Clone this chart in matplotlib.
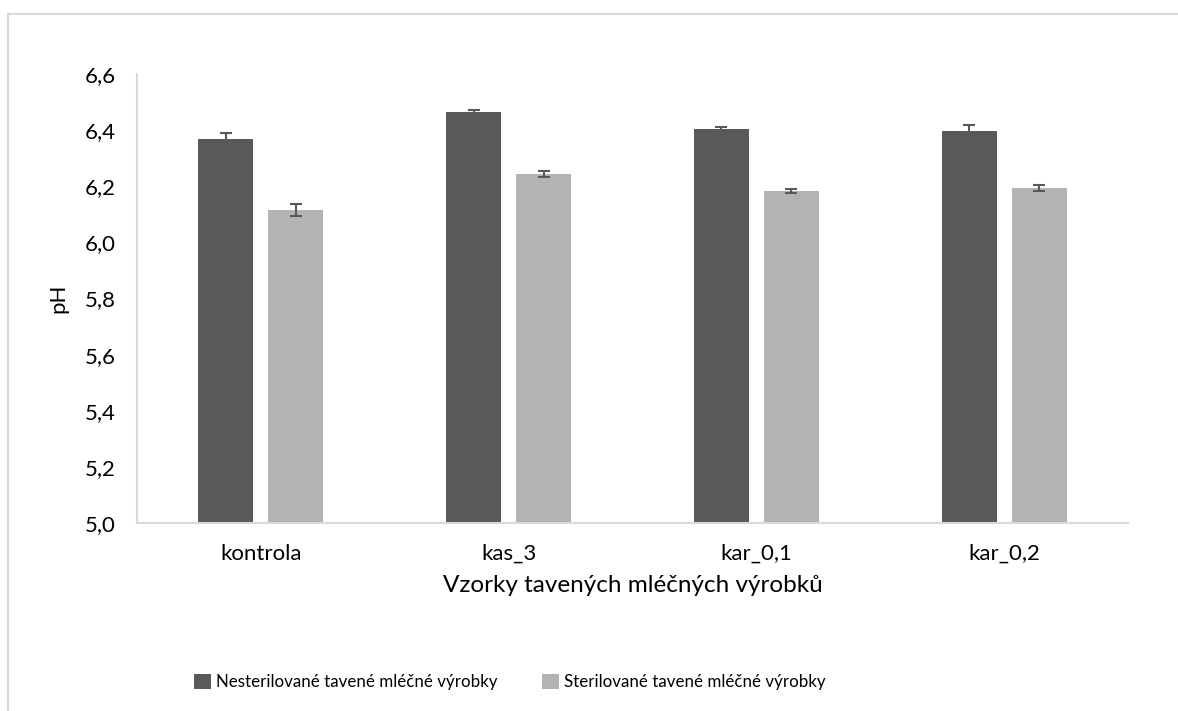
import matplotlib.pyplot as plt
import matplotlib.patches as patches
import numpy as np

plt.rcParams['font.family'] = ['Lato', 'DejaVu Sans']

categories = ["kontrola", "kas_3", "kar_0,1", "kar_0,2"]
nester = [6.368, 6.464, 6.403, 6.398]
nester_err = [0.020, 0.009, 0.008, 0.020]
ster = [6.115, 6.243, 6.183, 6.194]
ster_err = [0.021, 0.011, 0.008, 0.011]
series_names = ["Nesterilované tavené mléčné výrobky", "Sterilované tavené mléčné výrobky"]
yticks = [5.0, 5.2, 5.4, 5.6, 5.8, 6.0, 6.2, 6.4, 6.6]

fig = plt.figure(figsize=(11.78, 7.11), dpi=100)
ax = fig.add_axes([137 / 1178, 1 - 523 / 711, (1128 - 137) / 1178, (523 - 74) / 711])

x = np.arange(len(categories))
w = 0.222
off = 0.141
ekw = dict(ecolor="#595959", elinewidth=1.5, capsize=4.5, capthick=1.5)
b1 = ax.bar(x - off, np.array(nester) - 5.0, w, bottom=5.0, color="#595959",
            yerr=nester_err, error_kw=ekw, label=series_names[0])
b2 = ax.bar(x + off, np.array(ster) - 5.0, w, bottom=5.0, color="#b3b3b3",
            yerr=ster_err, error_kw=ekw, label=series_names[1])

ax.set_xlim(-0.5, len(categories) - 0.5)
ax.set_ylim(5.0, 6.6)
ax.set_yticks(yticks)
ax.set_yticklabels([f"{v:.1f}".replace(".", ",") for v in yticks])
ax.set_xticks(x)
ax.set_xticklabels(categories)
ax.tick_params(axis="both", length=0, labelsize=16, colors="#000000")
ax.tick_params(axis="y", pad=15)
ax.tick_params(axis="x", pad=15)
for s in ["top", "right"]:
    ax.spines[s].set_visible(False)
for s in ["left", "bottom"]:
    ax.spines[s].set_color("#d9d9d9")
    ax.spines[s].set_linewidth(1.5)

ax.set_ylabel("pH", fontsize=16, labelpad=12)
ax.set_xlabel("Vzorky tavených mléčných výrobků", fontsize=17.5, labelpad=8)

fig.legend(handles=[b1, b2], labels=series_names, loc="center",
           bbox_to_anchor=(510 / 1178, 1 - 682 / 711), ncol=2, frameon=False,
           fontsize=12.2, handlelength=1.0, handleheight=1.0, handletextpad=0.3,
           columnspacing=2.6)

# chart-area border (cropped at right and bottom)
fig.patches.append(patches.Rectangle((8 / 1178, -0.05), 1.1, 0.05 + 1 - 14 / 711,
                                     transform=fig.transFigure, fill=False,
                                     edgecolor="#d9d9d9", linewidth=1.5))

fig.savefig("out.png", dpi=100)
